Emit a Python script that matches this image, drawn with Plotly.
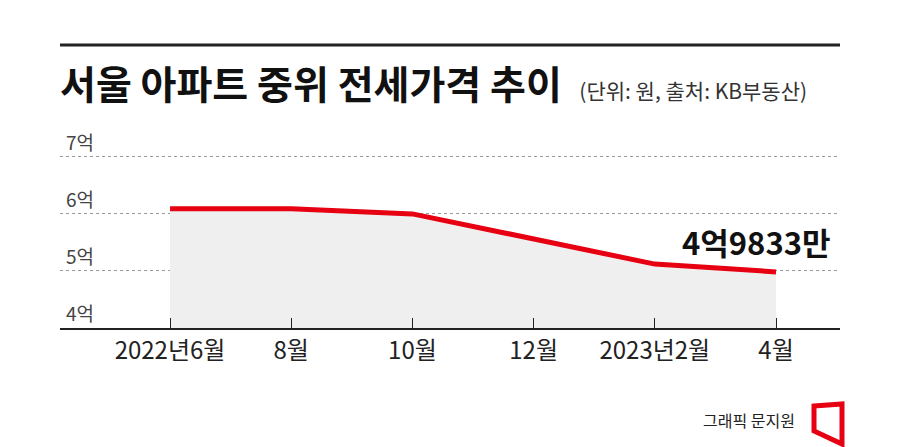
import plotly.graph_objects as go

labels = ["2022년6월", "8월", "10월", "12월", "2023년2월", "4월"]
values = [6.09, 6.09, 6.0, 5.55, 5.12, 4.9833]
ytick_vals = [4, 5, 6, 7]
ytick_text = ["4억", "5억", "6억", "7억"]

xs = list(range(len(labels)))
F = "Noto Sans CJK KR"
fig = go.Figure()
fig.add_trace(go.Scatter(x=xs, y=values, mode="lines", fill="tozeroy",
                         fillcolor="#efefef", line=dict(color="#e60012", width=5),
                         hoverinfo="skip"))
fig.update_layout(
    width=900, height=447, paper_bgcolor="white", plot_bgcolor="white",
    margin=dict(l=52, r=68, t=122, b=127), showlegend=False,
    font=dict(family=F, color="#222"),
    xaxis=dict(range=[-0.908, 5.528], tickvals=xs, ticktext=labels,
               showgrid=False, zeroline=False, showline=True, linecolor="#222",
               linewidth=1.5, ticks="inside", ticklen=10, tickcolor="#222",
               tickfont=dict(size=24, color="#222")),
    yaxis=dict(range=[4, 7.47], tickvals=ytick_vals, showticklabels=False,
               showgrid=True, gridcolor="#999", griddash="dot", gridwidth=1,
               zeroline=False),
)
for v, t in zip(ytick_vals, ytick_text):
    fig.add_annotation(x=0, xref="paper", y=v, yref="y", text=t, showarrow=False,
                       xanchor="left", yanchor="bottom", xshift=4, yshift=0,
                       font=dict(size=19, color="#444"))
fig.add_annotation(x=5, y=values[-1], text="<b>4억9833만</b>", showarrow=False,
                   xanchor="right", yanchor="bottom", xshift=57, yshift=6,
                   font=dict(size=31, color="#111", family=F))
fig.add_shape(type="line", xref="paper", yref="paper", x0=0.0, x1=1.0,
              y0=1 + (130 - 45) / 198, y1=1 + (130 - 45) / 198,
              line=dict(color="#222", width=3))
fig.add_annotation(xref="paper", yref="paper", x=-0.003, y=1 + (130 - 82) / 198,
                   text="<b>서울 아파트 중위 전세가격 추이</b>  <span style='font-size:21px;color:#333'>(단위: 원, 출처: KB부동산)</span>",
                   showarrow=False, xanchor="left", yanchor="middle",
                   font=dict(size=39, color="#111", family=F))
fig.add_annotation(xref="paper", yref="paper", x=(797 - 60) / 780, y=-(420 - 328) / 198,
                   text="그래픽 문지원", showarrow=False, xanchor="right", yanchor="middle",
                   font=dict(size=16, color="#222"))
fig.add_shape(type="path", xref="paper", yref="paper",
              path="M %f %f L %f %f L %f %f L %f %f Z" % (
                  (814-60)/780, -(406-328)/198, (842-60)/780, -(404-328)/198,
                  (842-60)/780, -(444-328)/198, (814-60)/780, -(431-328)/198),
              line=dict(color="#e60012", width=5), fillcolor="rgba(0,0,0,0)")
fig.write_html("out.html")
